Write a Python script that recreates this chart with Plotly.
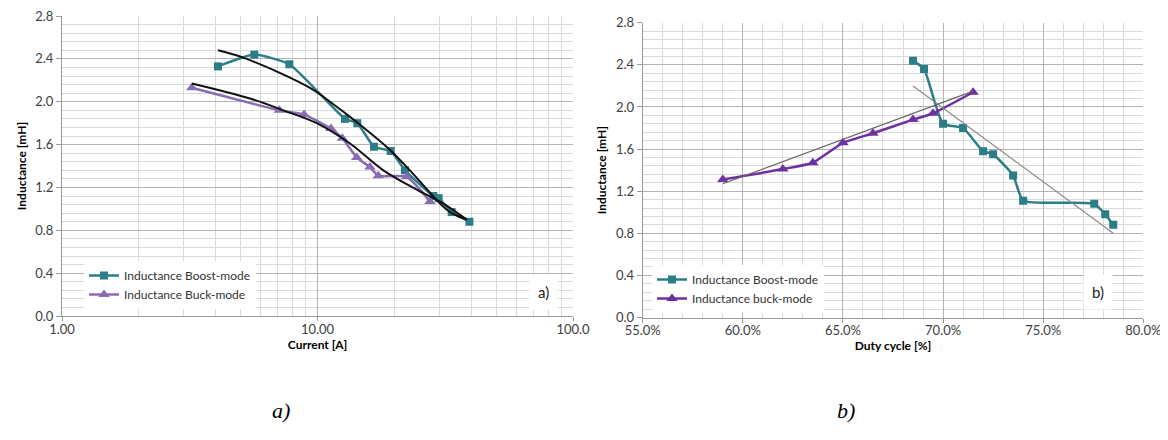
import plotly.graph_objects as go

# ---- Chart a) : inductance vs current (log x) ----
boost_current = [4.08, 5.66, 7.76, 12.81, 14.31, 16.64, 19.34, 22.0, 28.4, 29.8, 33.5, 39.3]
boost_L_a = [2.33, 2.44, 2.35, 1.84, 1.80, 1.58, 1.54, 1.36, 1.12, 1.10, 0.97, 0.88]

buck_current = [3.22, 7.09, 8.86, 11.29, 12.51, 14.24, 16.05, 17.30, 22.34, 27.56]
buck_L_a = [2.13, 1.92, 1.88, 1.75, 1.66, 1.48, 1.39, 1.31, 1.30, 1.07]

trend_boost_current = [4.08, 5.28, 9.35, 11.19, 14.24, 19.22, 24.45, 30.17, 33.0, 38.4]
trend_boost_L = [2.48, 2.40, 2.13, 2.00, 1.81, 1.55, 1.29, 1.05, 0.97, 0.90]
trend_buck_current = [3.22, 5.44, 7.35, 9.93, 13.40, 18.10, 24.45, 31.08, 38.4]
trend_buck_L = [2.17, 2.03, 1.92, 1.80, 1.61, 1.36, 1.18, 1.05, 0.90]

# ---- Chart b) : inductance vs duty cycle ----
boost_duty = [68.5, 69.05, 70.0, 71.0, 72.0, 72.5, 73.5, 74.0, 77.55, 78.1, 78.5]
boost_L_b = [2.44, 2.36, 1.84, 1.80, 1.58, 1.55, 1.35, 1.11, 1.08, 0.98, 0.88]

buck_duty = [59.0, 62.0, 63.5, 65.0, 66.5, 68.5, 69.5, 71.5]
buck_L_b = [1.31, 1.41, 1.47, 1.66, 1.75, 1.88, 1.94, 2.14]

trend_b_boost_duty = [68.5, 78.5]
trend_b_boost_L = [2.20, 0.80]
trend_b_buck_duty = [59.0, 71.5]
trend_b_buck_L = [1.27, 2.15]

y_ticks = [0.0, 0.4, 0.8, 1.2, 1.6, 2.0, 2.4, 2.8]
x_ticks_a = [1, 10, 100]
x_ticktext_a = ["1.00", "10.00", "100.0"]
x_ticks_b = [55, 60, 65, 70, 75, 80]
x_ticktext_b = ["55.0%", "60.0%", "65.0%", "70.0%", "75.0%", "80.0%"]

TEAL = "#2b7d88"
PURPLE_A = "#8a6cb3"
PURPLE_B = "#7030a0"

# page body has an 8px default margin; figure is sized to fit the window
OFF = 8
W, H = 1160, 432


def px(x):
    return (x - OFF) / W


def py(y):
    return 1 - (y - OFF) / H


fig = go.Figure()

# chart a traces
fig.add_trace(go.Scatter(x=boost_current, y=boost_L_a, mode="lines+markers",
                         name="Inductance Boost-mode", line=dict(color=TEAL, width=2.5, shape="spline", smoothing=0.5),
                         marker=dict(symbol="square", size=8, color=TEAL),
                         xaxis="x", yaxis="y", legend="legend"))
fig.add_trace(go.Scatter(x=buck_current, y=buck_L_a, mode="lines+markers",
                         name="Inductance Buck-mode", line=dict(color=PURPLE_A, width=2.5, shape="spline", smoothing=0.5),
                         marker=dict(symbol="triangle-up", size=10, color=PURPLE_A),
                         xaxis="x", yaxis="y", legend="legend"))
fig.add_trace(go.Scatter(x=trend_boost_current, y=trend_boost_L, mode="lines", showlegend=False,
                         line=dict(color="#111111", width=2, shape="spline"), xaxis="x", yaxis="y"))
fig.add_trace(go.Scatter(x=trend_buck_current, y=trend_buck_L, mode="lines", showlegend=False,
                         line=dict(color="#111111", width=2, shape="spline"), xaxis="x", yaxis="y"))

# chart b traces
fig.add_trace(go.Scatter(x=boost_duty, y=boost_L_b, mode="lines+markers",
                         name="Inductance Boost-mode", line=dict(color=TEAL, width=2.5, shape="spline", smoothing=0.5),
                         marker=dict(symbol="square", size=8, color=TEAL),
                         xaxis="x2", yaxis="y2", legend="legend2"))
fig.add_trace(go.Scatter(x=buck_duty, y=buck_L_b, mode="lines+markers",
                         name="Inductance buck-mode", line=dict(color=PURPLE_B, width=2.5, shape="spline", smoothing=0.5),
                         marker=dict(symbol="triangle-up", size=10, color=PURPLE_B),
                         xaxis="x2", yaxis="y2", legend="legend2"))
fig.add_trace(go.Scatter(x=trend_b_boost_duty, y=trend_b_boost_L, mode="lines", showlegend=False,
                         line=dict(color="#8c8c8c", width=1.2), xaxis="x2", yaxis="y2"))
fig.add_trace(go.Scatter(x=trend_b_buck_duty, y=trend_b_buck_L, mode="lines", showlegend=False,
                         line=dict(color="#666666", width=1.2), xaxis="x2", yaxis="y2"))

tickfont = dict(family="Lato, Open Sans, sans-serif", size=13, color="#404040")
titlefont = dict(family="Lato, Open Sans, sans-serif", size=12, color="#000000", weight="bold")
MAJ = "#b4b4b4"
MIN = "#dadada"

minor_a = [v * d for d in (1, 10) for v in range(2, 10)]

yaxis_common = dict(range=[0, 2.8005], tickvals=y_ticks, ticktext=[f"{v:.1f}" for v in y_ticks],
                    showgrid=True, gridcolor=MAJ, gridwidth=1,
                    minor=dict(dtick=0.08, tick0=0, showgrid=True, gridcolor=MIN, gridwidth=1),
                    showline=True, linecolor="#9a9a9a", linewidth=1, mirror=False,
                    ticks="outside", ticklen=5, tickcolor="#9a9a9a", ticklabeloverflow="allow",
                    tickfont=tickfont, zeroline=False, fixedrange=True, automargin=False,
                    title=dict(text="Inductance [mH]", font=titlefont, standoff=6))

xaxis_common = dict(showgrid=True, gridcolor=MAJ, gridwidth=1,
                    showline=True, linecolor="#9a9a9a", linewidth=1,
                    ticks="outside", ticklen=4, tickcolor="#9a9a9a", ticklabelstandoff=-3,
                    ticklabeloverflow="allow",
                    tickfont=tickfont, zeroline=False, automargin=False)

fig.update_layout(
    width=W, height=H,
    margin=dict(l=0, r=0, t=0, b=0, autoexpand=False),
    paper_bgcolor="white", plot_bgcolor="white",
    xaxis=dict(type="log", range=[0, 2], domain=[px(62), px(573)],
               tickvals=x_ticks_a, ticktext=x_ticktext_a,
               minor=dict(tickvals=minor_a, showgrid=True, gridcolor=MIN, gridwidth=1),
               anchor="y", title=dict(text="Current [A]", font=titlefont, standoff=4),
               **xaxis_common),
    yaxis=dict(domain=[py(316), py(16)], anchor="x", **yaxis_common),
    xaxis2=dict(range=[55, 80], domain=[px(642.7), px(1143.3)],
                tickvals=x_ticks_b, ticktext=x_ticktext_b,
                minor=dict(dtick=1, tick0=55, showgrid=True, gridcolor=MIN, gridwidth=1),
                anchor="y2", title=dict(text="Duty cycle [%]", font=titlefont, standoff=4),
                **xaxis_common),
    yaxis2=dict(domain=[py(317.5), py(22.7)], anchor="x2", **yaxis_common),
    legend=dict(x=px(84), y=py(261), xanchor="left", yanchor="top", bgcolor="white",
                font=dict(family="Lato, Open Sans, sans-serif", size=12, color="#333333"),
                tracegroupgap=0, itemwidth=30, borderwidth=0),
    legend2=dict(x=px(652), y=py(265), xanchor="left", yanchor="top", bgcolor="white",
                 font=dict(family="Lato, Open Sans, sans-serif", size=12, color="#333333"),
                 tracegroupgap=0, itemwidth=30, borderwidth=0),
)

fig.add_annotation(text="a)", x=px(543), y=py(292), xref="paper", yref="paper",
                   showarrow=False, bgcolor="white", borderpad=8,
                   font=dict(family="Lato, Open Sans, sans-serif", size=15, color="#222222"))
fig.add_annotation(text="b)", x=px(1113), y=py(292), xref="paper", yref="paper",
                   showarrow=False, bgcolor="white", borderpad=8,
                   font=dict(family="Lato, Open Sans, sans-serif", size=15, color="#222222"))
fig.add_annotation(text="<i>a)</i>", x=px(270), y=py(425), xref="paper", yref="paper",
                   showarrow=False, font=dict(family="Liberation Serif, serif", size=22, color="#000000"))
fig.add_annotation(text="<i>b)</i>", x=px(857), y=py(425), xref="paper", yref="paper",
                   showarrow=False, font=dict(family="Liberation Serif, serif", size=22, color="#000000"))

fig.write_html("out.html")
